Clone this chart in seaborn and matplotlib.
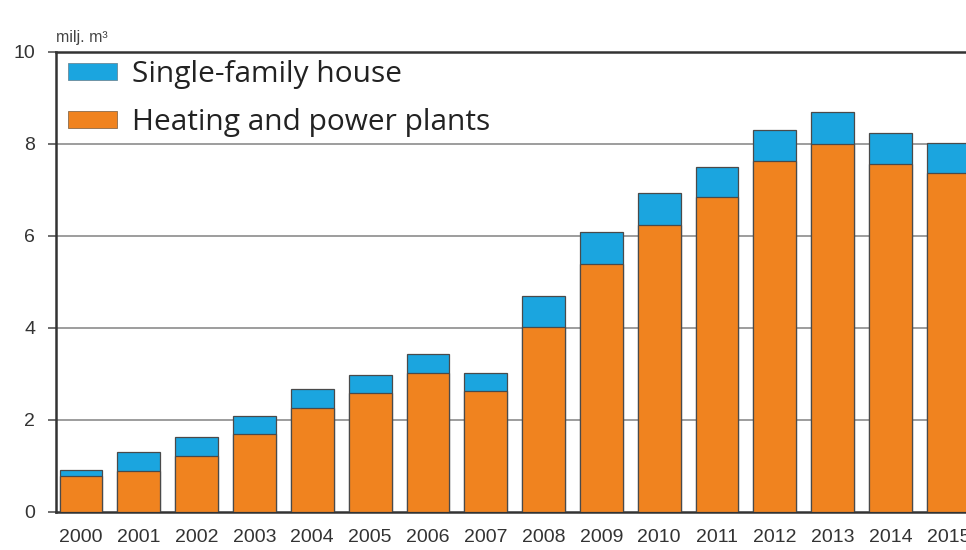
import matplotlib
matplotlib.use("Agg")
import matplotlib.pyplot as plt
import seaborn as sns
import pandas as pd
from matplotlib.patches import Patch

years = [str(y) for y in range(2000, 2016)]
heating_plants = [0.78, 0.90, 1.22, 1.70, 2.26, 2.59, 3.03, 2.64, 4.02, 5.39, 6.25, 6.85, 7.63, 8.01, 7.56, 7.36]
single_family = [0.13, 0.41, 0.41, 0.39, 0.41, 0.39, 0.40, 0.39, 0.68, 0.70, 0.68, 0.66, 0.67, 0.69, 0.69, 0.67]
y_ticks = [0, 2, 4, 6, 8, 10]
unit_label = "milj. m\u00b3"
legend_labels = ["Single-family house", "Heating and power plants"]

BLUE = "#1ba5df"
ORANGE = "#f0831f"

df = pd.DataFrame({
    "year": years,
    "heating": heating_plants,
    "total": [a + b for a, b in zip(heating_plants, single_family)],
})

sns.set_style("white")
plt.rcParams["font.family"] = ["Liberation Sans", "DejaVu Sans"]

fig = plt.figure(figsize=(9.66, 5.5), dpi=100)
ax = fig.add_axes([56 / 966, 38 / 550, 927 / 966, 460 / 550])

sns.barplot(data=df, x="year", y="total", color=BLUE, saturation=1, width=0.74,
            edgecolor="#4a4a4a", linewidth=0.9, ax=ax, zorder=3)
sns.barplot(data=df, x="year", y="heating", color=ORANGE, saturation=1, width=0.74,
            edgecolor="#4a4a4a", linewidth=0.9, ax=ax, zorder=3)

ax.set_xlim(-0.433, 15.6)
ax.set_ylim(0, 10)
ax.set_yticks(y_ticks)
ax.set_yticklabels([str(t) for t in y_ticks])
ax.set_xlabel("")
ax.set_ylabel("")

for t in y_ticks[1:-1]:
    ax.axhline(t, color="#8c8c8c", linewidth=1.2, zorder=1)

ax.spines["right"].set_visible(False)
for side in ["top", "bottom", "left"]:
    ax.spines[side].set_visible(True)
    ax.spines[side].set_color("#333333")
    ax.spines[side].set_linewidth(1.8)

ax.tick_params(axis="y", direction="out", length=6, width=1.2, color="#555555",
               pad=9, labelsize=14, labelcolor="#333333", left=True)
ax.tick_params(axis="x", length=0, pad=12, labelsize=14, labelcolor="#333333")

ax.text(0.0, 1.022, unit_label, transform=ax.transAxes, fontsize=11.5,
        color="#444444", ha="left", va="baseline")

handles = [Patch(facecolor=BLUE, edgecolor="#6a8a9a", linewidth=0.6),
           Patch(facecolor=ORANGE, edgecolor="#8a6a4a", linewidth=0.6)]
leg = ax.legend(handles, legend_labels, loc="upper left",
                bbox_to_anchor=(0.0, 1.008),
                frameon=False, handlelength=1.64, handleheight=0.5,
                labelspacing=0.63, handletextpad=0.5, borderaxespad=0.0,
                borderpad=0.4,
                prop={"family": ["Open Sans", "DejaVu Sans"], "size": 21.5})
for t in leg.get_texts():
    t.set_color("#222222")

fig.savefig("out.png", dpi=100)
